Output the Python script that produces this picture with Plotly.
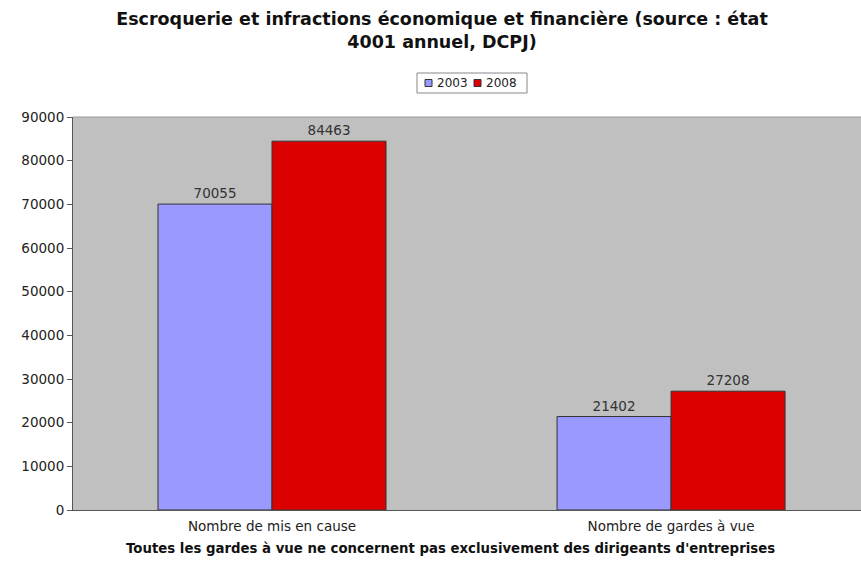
import plotly.graph_objects as go

categories = ["Nombre de mis en cause", "Nombre de gardes à vue"]
series_names = ["2003", "2008"]
values_2003 = [70055, 21402]
values_2008 = [84463, 27208]
y_ticks = [0, 10000, 20000, 30000, 40000, 50000, 60000, 70000, 80000, 90000]

colors = ["#9999FF", "#DD0000"]
font_family = "DejaVu Sans, Verdana, sans-serif"

fig = go.Figure()
for name, vals, col in zip(series_names, [values_2003, values_2008], colors):
    fig.add_trace(go.Bar(
        name=name, x=categories, y=vals,
        marker=dict(color=col, line=dict(color="#333333", width=1)),
        text=[str(v) for v in vals], textposition="outside",
        textfont=dict(size=13.5, color="#333333", family=font_family),
        cliponaxis=False, showlegend=False,
    ))

W, H = 861, 573
ml, mr, mt, mb = 73, 0, 117, 63

fig.update_layout(
    width=W, height=H,
    margin=dict(l=ml, r=mr, t=mt, b=mb, autoexpand=False),
    paper_bgcolor="white", plot_bgcolor="#C0C0C0",
    barmode="group", bargap=0.4286, bargroupgap=0,
    font=dict(family=font_family, size=13, color="#222222"),
    title=dict(
        text="<b>Escroquerie et infractions économique et financière (source : état<br>4001 annuel, DCPJ)</b>",
        x=442 / W, xanchor="center", xref="container",
        y=1 - 25 / H, yanchor="top", yref="container",
        font=dict(size=17.5, color="#111111", family=font_family),
    ),
    showlegend=False,
)
fig.update_xaxes(
    range=[-0.4987, 1.476], showline=True, linecolor="#555555", linewidth=1,
    ticks="", tickfont=dict(size=13.5, color="#222222"), automargin=False,
    ticklabelstandoff=4, showgrid=False,
)
fig.update_yaxes(
    range=[0, 90000], tickvals=y_ticks, ticktext=[str(v) for v in y_ticks],
    showline=True, linecolor="#555555", linewidth=1, automargin=False,
    ticks="outside", ticklen=5, tickcolor="#555555",
    tickfont=dict(size=13.5, color="#222222"), showgrid=False, zeroline=False,
)
fig.add_shape(type="line", xref="paper", yref="paper", x0=0, x1=1, y0=1, y1=1,
              line=dict(color="#9a9a9a", width=1))

# pixel -> paper coords helpers
def px(x):
    return (x - ml) / (W - ml - mr)

def py(y):
    return (H - mb - y) / (H - mt - mb)

# x-axis title placed as in the reference (centered on the chart, not the plot)
fig.add_annotation(
    text="<b>Toutes les gardes à vue ne concernent pas exclusivement des dirigeants d'entreprises</b>",
    xref="paper", yref="paper", x=px(450), y=py(548), xanchor="center", yanchor="middle",
    showarrow=False, font=dict(size=13.3, color="#111111"),
)

# custom compact legend
fig.add_shape(type="rect", xref="paper", yref="paper",
              x0=px(417), x1=px(527), y0=py(93), y1=py(73),
              line=dict(color="#888888", width=1), fillcolor="white")
legend_items = [(series_names[0], colors[0], 425), (series_names[1], colors[1], 474)]
for name, col, x0 in legend_items:
    fig.add_shape(type="rect", xref="paper", yref="paper",
                  x0=px(x0), x1=px(x0 + 7), y0=py(86.5), y1=py(79.5),
                  line=dict(color="#333333", width=1), fillcolor=col)
    fig.add_annotation(text=name, xref="paper", yref="paper",
                       x=px(x0 + 10), y=py(83), xanchor="left", yanchor="middle",
                       showarrow=False, font=dict(size=12, color="#222222"))

fig.write_html("out.html", config={"displayModeBar": False},
               post_script="document.body.style.margin='0';document.body.style.overflow='hidden';")
